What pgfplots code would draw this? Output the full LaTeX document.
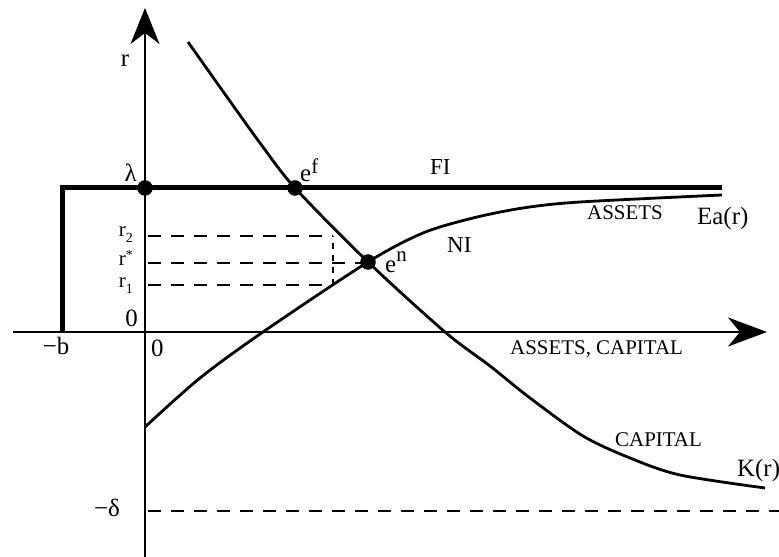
\documentclass[border=0pt]{standalone}
\usepackage{fontspec}
\setmainfont{Liberation Serif}
\usepackage{pgfplots}
\pgfplotsset{compat=1.18}
\usetikzlibrary{arrows.meta}

\newcommand{\lblbig}{\fontsize{25}{28}\selectfont}
\newcommand{\lblmid}{\fontsize{21}{24}\selectfont}
\newcommand{\lblr}{\fontsize{21}{22}\selectfont}
\newcommand{\lblsub}{\fontsize{14}{15}\selectfont}

\begin{document}
\begin{tikzpicture}
\begin{axis}[scale only axis, width=779bp, height=557bp,
  xmin=-145, xmax=634, ymin=-225, ymax=332,
  axis lines=none, clip=false]

% axes
\addplot[black, line width=2.3bp, -{Stealth[length=36bp,width=29bp,inset=11bp]}] coordinates {(0,-225) (0,324)};
\addplot[black, line width=2.3bp, -{Stealth[length=39bp,width=29bp,inset=12bp]}] coordinates {(-132,0) (622,0)};

% FI frontier
\addplot[black, line width=5bp, line join=miter] coordinates {(-83,0) (-83,144) (577,144)};

% dashed guides
\addplot[black, line width=2.4bp, dash pattern=on 13bp off 10bp] coordinates {(3,96) (188,96)};
\addplot[black, line width=2.4bp, dash pattern=on 13bp off 10bp] coordinates {(3,69) (223,69)};
\addplot[black, line width=2.4bp, dash pattern=on 13bp off 10bp] coordinates {(3,47) (188,47)};
\addplot[black, line width=1.5bp, dash pattern=on 6bp off 6bp] coordinates {(188,47) (188,96)};
\addplot[black, line width=2.4bp, dash pattern=on 13bp off 10bp] coordinates {(3,-179) (634,-179)};

% Ea(r), assets
\addplot[black, line width=2.8bp, smooth] coordinates {
  (0,-95) (55,-46) (118,0) (223,70) (278,99) (328,114) (378,124) (435,130) (577,137)};

% K(r), capital
\addplot[black, line width=2.8bp, smooth] coordinates {
  (43,290) (82,235) (115,189) (150,144) (223,70) (300,0) (345,-34) (385,-66)
  (438,-104) (485,-126) (535,-143) (620,-156)};

% equilibria
\addplot[black, only marks, mark=*, mark size=7.5bp] coordinates {(0,144) (150,144) (223,70)};

% labels
\node[font=\lblbig, anchor=base] at (axis cs:-20,265) {r};
\node[font=\lblbig, anchor=base east, inner sep=0pt] at (axis cs:-8,150) {λ};
\node[font=\lblbig, anchor=base west, inner sep=0pt] at (axis cs:155,150) {e\raisebox{0.35em}{\lblmid f}};
\node[font=\lblbig, anchor=base west, inner sep=0pt] at (axis cs:240,59) {e\raisebox{0.45em}{\lblmid n}};
\node[font=\fontsize{23}{26}\selectfont, anchor=base west, inner sep=0pt] at (axis cs:285,157) {FI};
\node[font=\fontsize{23}{26}\selectfont, anchor=base west, inner sep=0pt] at (axis cs:302,79) {NI};
\node[font=\lblmid, anchor=base, inner sep=0pt] at (axis cs:480,112) {ASSETS};
\node[font=\lblbig, anchor=base west, inner sep=0pt] at (axis cs:552,107) {Ea(r)};
\node[font=\lblmid, anchor=base west, inner sep=0pt] at (axis cs:365,-23) {ASSETS, CAPITAL};
\node[font=\lblmid, anchor=base west, inner sep=0pt] at (axis cs:470,-115) {CAPITAL};
\node[font=\lblbig, anchor=base west, inner sep=0pt] at (axis cs:592,-145) {K(r)};

\node[font=\lblr, anchor=base east, inner sep=0pt] at (axis cs:-12,95) {r\raisebox{-0.25em}{\lblsub 2}};
\node[font=\lblr, anchor=base east, inner sep=0pt] at (axis cs:-12,66) {r\raisebox{0.3em}{\lblsub *}};
\node[font=\lblr, anchor=base east, inner sep=0pt] at (axis cs:-12,44) {r\raisebox{-0.25em}{\lblsub 1}};
\node[font=\lblbig, anchor=base east, inner sep=0pt] at (axis cs:-7,5) {0};
\node[font=\lblbig, anchor=base west, inner sep=0pt] at (axis cs:6,-25) {0};
\node[font=\lblbig, anchor=base, inner sep=0pt] at (axis cs:-89,-23) {−b};
\node[font=\lblbig, anchor=base east, inner sep=0pt] at (axis cs:-25,-185) {−δ};
\end{axis}
\pgfresetboundingbox
\useasboundingbox (0,0) rectangle (779bp,557bp);
\end{tikzpicture}
\end{document}
